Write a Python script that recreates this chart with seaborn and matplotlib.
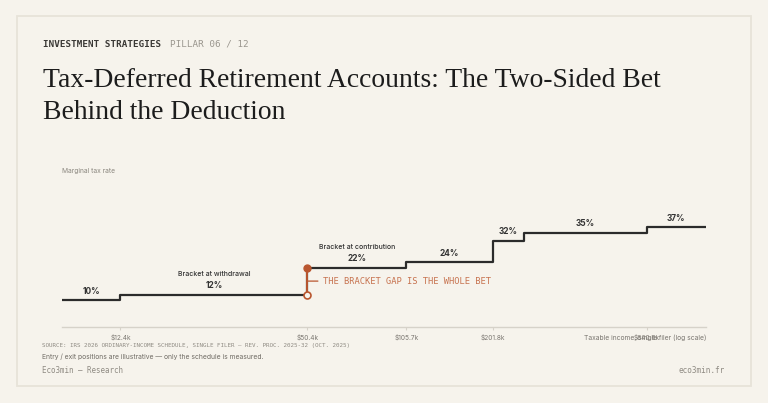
import matplotlib
matplotlib.use("Agg")
import matplotlib.pyplot as plt
from matplotlib.patches import Rectangle
from matplotlib.ticker import NullLocator
import seaborn as sns
import pandas as pd
import numpy as np

# ---------------- data ----------------
thresholds = [12400, 50400, 105700, 201775, 256225, 640600]   # bracket floors ($)
rates = [10, 12, 22, 24, 32, 35, 37]                           # marginal rate (%)
income_min, income_max = 8000, 1000000                         # plotted domain
tick_values = [12400, 50400, 105700, 201775, 640600]
tick_labels = ["$12.4k", "$50.4k", "$105.7k", "$201.8k", "$640.6k"]
bracket_notes = {1: "Bracket at withdrawal", 2: "Bracket at contribution"}
exit_idx, entry_idx = 1, 2

# ---------------- style ----------------
sns.set_theme(style="white")
plt.rcParams["font.family"] = ["Inter", "DejaVu Sans"]
BG = "#f6f3ec"
INK = "#2b2b2b"
ORANGE = "#b9562f"
ORANGE_TXT = "#c7734f"
MONO = "DejaVu Sans Mono"
SERIF = "Liberation Serif"

W, H = 768, 403
fig = plt.figure(figsize=(W / 100, H / 100), dpi=100, facecolor=BG)
renderer = fig.canvas.get_renderer()


def fx(x):
    return x / W


def fy(y):
    return 1 - y / H


def fit(s, target, **kw):
    t = fig.text(0, 0, s, fontsize=10, **kw)
    w = t.get_window_extent(renderer).width
    t.remove()
    return 10 * target / w


def ftext(x, y, s, target, **kw):
    fk = {k: v for k, v in kw.items() if k in ("family", "weight")}
    size = fit(s, target, **fk)
    return fig.text(fx(x), fy(y), s, fontsize=size, **kw)


# card
fig.add_artist(Rectangle((fx(17), fy(386)), (751 - 17) / W, (386 - 16) / H,
                         transform=fig.transFigure, facecolor=BG,
                         edgecolor="#e7e3d9", lw=1.3, zorder=-5))

# header
ftext(42.7, 44.2, "INVESTMENT STRATEGIES", 118, family=MONO, weight="bold",
      color="#3a3835", va="center", ha="left")
ftext(170, 44.2, "PILLAR 06 / 12", 77.7, family=MONO, color="#9a968e",
      va="center", ha="left")
title1 = "Tax-Deferred Retirement Accounts: The Two-Sided Bet"
title2 = "Behind the Deduction"
tsize = fit(title1, 616.6, family=SERIF)
fig.text(fx(42.7), fy(87.3), title1, family=SERIF, fontsize=tsize,
         color="#1c1c1c", va="baseline", ha="left")
fig.text(fx(42.7), fy(119.3), title2, family=SERIF, fontsize=tsize,
         color="#1c1c1c", va="baseline", ha="left")

ftext(61.7, 170.7, "Marginal tax rate", 53, color="#8a867e", va="center", ha="left")

# ---------------- chart ----------------
ax = fig.add_axes([fx(62), fy(327), (706 - 62) / W, (327 - 178.5) / H])
ax.set_facecolor("none")

edges = [income_min] + thresholds + [income_max]
df = pd.DataFrame({"income": edges, "rate": rates + [rates[-1]]})
sns.lineplot(data=df, x="income", y="rate", drawstyle="steps-post",
             color=INK, lw=1.6, ax=ax, zorder=3)
ax.set_xscale("log")
ax.set_xlim(income_min, income_max)
ax.set_ylim(0, 55)

for s in ("left", "top", "right"):
    ax.spines[s].set_visible(False)
ax.spines["bottom"].set_color("#d6d2c9")
ax.spines["bottom"].set_linewidth(1.0)

tick_size = fit("$12.4k", 20.7)
ax.set_xticks(tick_values, tick_labels)
ax.xaxis.set_minor_locator(NullLocator())
ax.tick_params(axis="x", bottom=True, length=2.5, width=0.8, color="#d6d2c9",
               labelsize=tick_size, labelcolor="#7a7670", pad=2.5)
ax.set_yticks([])
ax.set_xlabel("")
ax.set_ylabel("")

pct_size = fit("10%", 17.6, weight="bold")
note_size = fit("Bracket at withdrawal", 72.3, weight="medium")
for i, rate in enumerate(rates):
    mid = np.sqrt(edges[i] * edges[i + 1])
    ax.annotate(f"{rate}%", (mid, rate), xytext=(0, 6.2), textcoords="offset points",
                ha="center", va="center", fontsize=pct_size, weight="bold",
                color="#333333")
    if i in bracket_notes:
        ax.annotate(bracket_notes[i], (mid, rate), xytext=(0, 14.5),
                    textcoords="offset points", ha="center", va="center",
                    fontsize=note_size, weight="medium", color="#333333")

# the bracket gap: exit rate (hollow) vs entry rate (filled) at the 22% floor
gap_x = thresholds[entry_idx - 1]
lo_rate, hi_rate = rates[exit_idx], rates[entry_idx]
ax.plot([gap_x, gap_x], [lo_rate, hi_rate], color=ORANGE, lw=1.4, zorder=4)
ax.plot([gap_x], [hi_rate], "o", ms=5, color=ORANGE, zorder=5)
ax.plot([gap_x], [lo_rate], "o", ms=5, mfc=BG, mec=ORANGE, mew=1.2, zorder=5)
mid_rate = (lo_rate + hi_rate) / 2
ax.annotate("", xy=(gap_x, mid_rate), xytext=(7.5, 0), textcoords="offset points",
            arrowprops=dict(arrowstyle="-", color=ORANGE, lw=0.9,
                            shrinkA=0, shrinkB=0))
ann_text = "THE BRACKET GAP IS THE WHOLE BET"
ann_size = fit(ann_text, 169, family=MONO)
ax.annotate(ann_text, (gap_x, mid_rate), xytext=(11.2, 0),
            textcoords="offset points", ha="left", va="center",
            family=MONO, fontsize=ann_size, color=ORANGE_TXT)

ftext(706, 337.3, "Taxable income, single filer (log scale)", 122.7,
      color="#7a7670", va="center", ha="right")

# footer
ftext(42.3, 345, "SOURCE: IRS 2026 ORDINARY-INCOME SCHEDULE, SINGLE FILER — REV. PROC. 2025-32 (OCT. 2025)",
      309, family=MONO, color="#8f8b83", va="center", ha="left")
ftext(42.3, 357, "Entry / exit positions are illustrative — only the schedule is measured.",
      221, color="#6f6b64", va="center", ha="left")
ftext(42.3, 370.7, "Eco3min — Research", 82, family=MONO, color="#8f8b83",
      va="center", ha="left")
ftext(725, 370.7, "eco3min.fr", 45.7, family=MONO, color="#8f8b83",
      va="center", ha="right")

fig.savefig("out.png", dpi=100, facecolor=BG)
